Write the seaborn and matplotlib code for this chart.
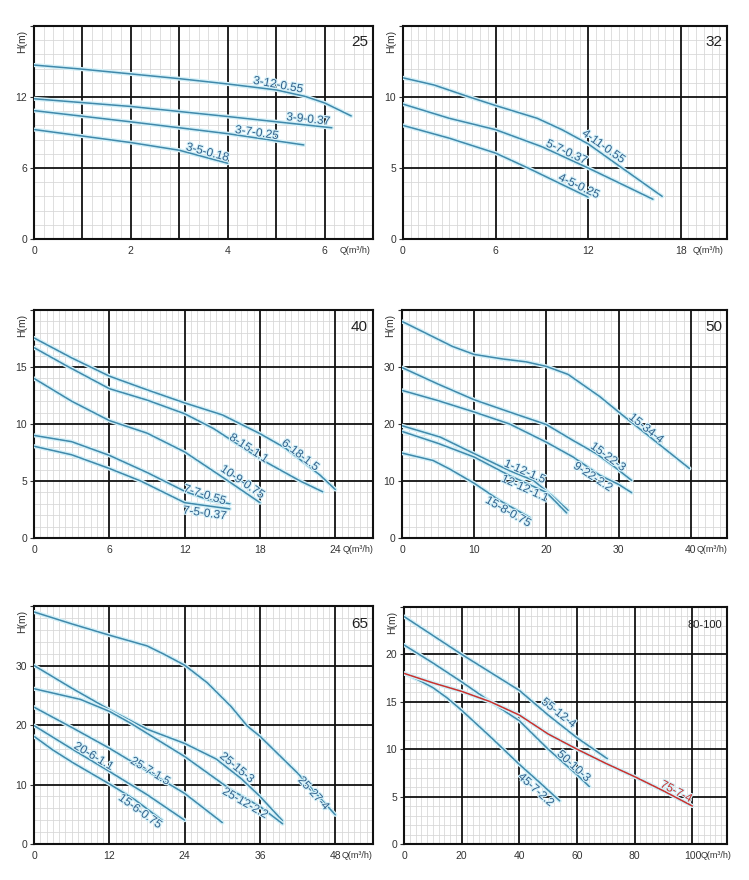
import numpy as np
import pandas as pd
import matplotlib
matplotlib.use("Agg")
import matplotlib.pyplot as plt
import matplotlib.patheffects as pe
from matplotlib.ticker import MultipleLocator, FixedLocator
import seaborn as sns

sns.set_theme(style="white")
plt.rcParams['font.family'] = ['Liberation Sans', 'DejaVu Sans']

# ---- data: Q (m3/h) and H (m) per pump model ----
# panel 25
p25_names = ["3-12-0.55", "3-9-0.37", "3-7-0.25", "3-5-0.18"]
p25_q = [[0, 1, 2, 3, 4, 5, 5.6, 6, 6.55],
         [0, 2, 4, 6.15],
         [0, 2, 4, 5.57],
         [0, 1, 2, 3, 4]]
p25_h = [[14.7, 14.35, 13.95, 13.55, 13.1, 12.6, 12.05, 11.5, 10.4],
         [11.85, 11.2, 10.35, 9.4],
         [10.85, 9.9, 8.9, 7.95],
         [9.25, 8.7, 8.15, 7.5, 6.4]]

# panel 32
p32_names = ["4-11-0.55", "5-7-0.37", "4-5-0.25"]
p32_q = [[0, 2, 4.3, 6, 8.7, 10.3, 12, 14.2, 16.8],
         [0, 3, 6, 9, 12, 14.2, 16.2],
         [0, 3, 6, 8.1, 10, 12]]
p32_h = [[11.35, 10.85, 10.0, 9.4, 8.5, 7.7, 6.7, 5.0, 3.0],
         [9.5, 8.5, 7.7, 6.5, 5.0, 3.85, 2.8],
         [8.0, 7.1, 6.05, 5.0, 4.0, 2.95]]

# panel 40
p40_names = ["6-18-1.5", "8-15-1.1", "10-9-0.75", "7-7-0.55", "7-5-0.37"]
p40_q = [[0, 3, 6, 9, 12, 15, 18, 20, 22.8, 24],
         [0, 2.6, 6, 9, 12, 14.3, 18, 21.2, 23],
         [0, 3, 6, 9, 12, 15.4, 18],
         [0, 3, 6, 9, 12, 14, 15.6],
         [0, 3, 6, 8.5, 12, 15.6]]
p40_h = [[17.55, 15.8, 14.2, 13.0, 11.85, 10.8, 9.15, 7.9, 5.5, 4.25],
         [16.7, 15.1, 13.1, 12.1, 10.9, 9.6, 6.95, 5.0, 4.05],
         [14.0, 12.0, 10.3, 9.2, 7.55, 5.05, 3.1],
         [9.0, 8.45, 7.25, 5.75, 4.1, 3.3, 3.0],
         [8.05, 7.3, 6.1, 5.0, 3.1, 2.55]]

# panel 50
p50_names = ["15-34-4", "15-22-3", "9-22-2.2", "1-12-1.5", "12-12-1.1", "15-8-0.75"]
p50_q = [[0, 4.3, 7, 10, 14, 17.2, 20, 23, 27.4, 30, 39.8],
         [0, 5, 10, 14.9, 20, 23.7, 26.9, 29.5, 31.8],
         [0, 5, 10, 14.9, 20, 23.7, 27.4, 30, 31.8],
         [0, 5.3, 10, 14.9, 18.2, 20.9, 23],
         [0, 5, 10, 14.9, 20, 22.8],
         [0, 4.3, 6.6, 10, 13.5, 17.7]]
p50_h = [[38.0, 35.3, 33.6, 32.2, 31.4, 30.9, 30.1, 28.7, 24.8, 22.1, 12.2],
         [29.9, 27.0, 24.25, 22.1, 19.9, 17.1, 14.8, 12.4, 10.1],
         [25.9, 24.1, 22.1, 20.0, 16.8, 14.2, 11.0, 9.4, 7.95],
         [19.7, 17.7, 14.8, 11.8, 10.1, 7.3, 4.85],
         [18.7, 16.6, 14.2, 10.95, 8.0, 4.4],
         [14.9, 13.6, 12.1, 9.6, 6.6, 3.6]]

# panel 65
p65_names = ["25-27-4", "25-15-3", "25-12-2.2", "25-7-1.5", "20-6-1.1", "15-6-0.75"]
p65_q = [[0, 6, 12, 18, 20.7, 24, 27.6, 31.4, 34, 36, 42, 48],
         [0, 6, 12, 18, 24, 29, 33, 36, 39.6],
         [0, 7.4, 12, 15.4, 24, 31.4, 36, 39.6],
         [0, 6, 12, 18, 24, 30],
         [0, 6, 12, 18, 24],
         [0, 3, 6.3, 12, 16, 20.4]]
p65_h = [[39.0, 37.0, 35.1, 33.3, 31.9, 30.05, 27.1, 23.1, 19.8, 18.1, 11.9, 4.9],
         [30.0, 26.2, 22.6, 19.3, 16.9, 14.3, 11.0, 8.0, 3.9],
         [26.1, 24.3, 22.3, 20.3, 14.7, 9.1, 6.3, 3.4],
         [23.0, 19.6, 16.1, 12.3, 8.5, 3.6],
         [19.9, 16.0, 12.2, 8.3, 4.0],
         [18.1, 15.8, 13.6, 10.1, 7.5, 4.0]]

# panel 80-100
p80_names = ["55-12-4", "50-10-3", "45-7-2.2", "75-7-4"]
p80_q = [[0, 20, 40, 50, 60, 70.5],
         [0, 10, 20, 30, 40, 50, 60, 64.3],
         [0, 5, 10, 15, 20, 30, 40, 47, 54],
         [0, 10, 20, 30, 40, 50, 60, 70, 80, 90, 100]]
p80_h = [[24.0, 20.0, 16.2, 13.6, 11.2, 9.0],
         [21.0, 19.1, 17.1, 15.0, 13.0, 10.0, 7.3, 6.05],
         [18.0, 17.3, 16.5, 15.4, 14.1, 11.3, 8.4, 6.5, 4.55],
         [18.0, 17.0, 16.1, 15.0, 13.6, 11.6, 10.0, 8.5, 7.1, 5.6, 4.0]]

# where each curve label sits (Q, H)
p25_lab = [(5.04, 13.0), (5.66, 10.1), (4.6, 8.95), (3.58, 7.3)]
p32_lab = [(13.0, 6.5), (10.6, 6.1), (11.4, 3.7)]
p40_lab = [(21.2, 7.25), (17.1, 7.85), (16.6, 4.9), (13.6, 3.75), (13.6, 2.15)]
p50_lab = [(33.8, 19.2), (28.5, 14.2), (26.4, 10.7), (17.0, 11.6), (17.0, 8.65), (14.7, 4.56)]
p65_lab = [(44.5, 8.5), (32.3, 12.8), (33.6, 6.85), (18.5, 12.2), (9.5, 14.7), (16.9, 5.45)]
p80_lab = [(53.6, 13.8), (58.8, 8.2), (45.7, 5.7), (94.4, 5.5)]

BLUE = "#4089ab"
LBLUE = "#31618c"
RED = "#c8322f"
GLOW = "#d3f0f8"

W, H = 749, 880
fig = plt.figure(figsize=(W / 100, H / 100), dpi=100)


def make_panel(rect, title, names, qs, hs, labs, xmax, ymax, xgrid, ygrid,
               xlab, xminor, yminor, qoff, colors=None, title_size=11):
    l, r, t, b = rect
    ax = fig.add_axes([l / W, 1 - b / H, (r - l) / W, (b - t) / H])
    rows = []
    for n, q, h in zip(names, qs, hs):
        for qq, hh in zip(q, h):
            rows.append((n, qq, hh))
    df = pd.DataFrame(rows, columns=["model", "Q", "H"])
    if colors is None:
        colors = [BLUE] * len(names)
    pal = dict(zip(names, colors))
    sns.lineplot(data=df, x="Q", y="H", hue="model", palette=pal, sort=False,
                 estimator=None, legend=False, lw=1.1, ax=ax, zorder=3)
    for ln in ax.get_lines():
        ln.set_path_effects([pe.Stroke(linewidth=3.0, foreground=GLOW), pe.Normal()])

    ax.set_xlim(0, xmax)
    ax.set_ylim(0, ymax)
    xt = np.arange(0, xmax + 1e-9, xgrid)
    yt = np.arange(0, ymax + 1e-9, ygrid)
    ax.xaxis.set_major_locator(FixedLocator(xt))
    ax.yaxis.set_major_locator(FixedLocator(yt))
    ax.set_xticklabels([("%g" % v) if (abs(v / xlab - round(v / xlab)) < 1e-6 and v < xmax - 1e-6) else ""
                        for v in xt])
    ax.set_yticklabels([("%g" % v) if v < ymax - 1e-6 else "" for v in yt])
    ax.xaxis.set_minor_locator(MultipleLocator(xminor))
    ax.yaxis.set_minor_locator(MultipleLocator(yminor))
    ax.grid(which="minor", color="#d6d6d6", lw=0.55, zorder=0)
    ax.grid(which="major", visible=False)
    # heavy black major grid, drawn above the minor grid
    for v in xt[1:]:
        ax.axvline(v, color="#111111", lw=1.3, zorder=1)
    for v in yt[1:]:
        ax.axhline(v, color="#111111", lw=1.3, zorder=1)
    for s in ax.spines.values():
        s.set_color("#111111")
        s.set_linewidth(1.5)
    ax.tick_params(axis="x", which="both", length=0, labelsize=7.5, colors="#333333", pad=5)
    ax.tick_params(axis="y", which="major", length=3, width=0.8, labelsize=7.5,
                   colors="#333333", left=True, pad=2)
    ax.tick_params(axis="y", which="minor", length=0)
    ax.set_xlabel("")
    ax.set_ylabel("")

    ax.text(0.985, 0.925, title, transform=ax.transAxes, ha="right", va="center",
            fontsize=title_size, color="#222222")
    ax.annotate("H(m)", xy=(0, 1), xycoords="axes fraction", xytext=(-12, -4),
                textcoords="offset pixels", rotation=90, ha="center", va="top",
                fontsize=7.5, color="#333333")
    last = xt[[i for i, v in enumerate(xt) if abs(v / xlab - round(v / xlab)) < 1e-6 and v < xmax - 1e-6][-1]]
    ax.annotate("Q(m³/h)", xy=(last, 0), xycoords="data", xytext=(qoff, -7),
                textcoords="offset pixels", ha="left", va="top",
                fontsize=6.5, color="#333333", annotation_clip=False)

    # labels along the curves, rotated to the local slope
    for n, q, h, (lq, lh), c in zip(names, qs, hs, labs, colors):
        d = xmax * 0.03
        p1 = ax.transData.transform((lq - d, np.interp(lq - d, q, h)))
        p2 = ax.transData.transform((lq + d, np.interp(lq + d, q, h)))
        ang = np.degrees(np.arctan2(p2[1] - p1[1], p2[0] - p1[0]))
        tc = LBLUE if c == BLUE else RED
        ax.text(lq, lh, n, rotation=ang, rotation_mode="anchor", ha="center", va="center",
                fontsize=8.5, color=tc, zorder=4,
                path_effects=[pe.withStroke(linewidth=1.6, foreground=GLOW)])
    return ax


make_panel((34, 373, 26, 239), "25", p25_names, p25_q, p25_h, p25_lab,
           7, 18, 1, 6, 2, 0.2, 1.2, 15)
make_panel((403, 727, 26, 239), "32", p32_names, p32_q, p32_h, p32_lab,
           21, 15, 6, 5, 6, 0.5, 1, 12)
make_panel((34, 373, 310, 538), "40", p40_names, p40_q, p40_h, p40_lab,
           27, 20, 6, 5, 6, 0.5, 1, 7)
make_panel((402, 727, 310, 538), "50", p50_names, p50_q, p50_h, p50_lab,
           45, 40, 10, 10, 10, 1, 2, 6)
make_panel((34, 373, 606, 844), "65", p65_names, p65_q, p65_h, p65_lab,
           54, 40, 12, 10, 12, 1, 2, 6)
make_panel((404, 727, 607, 844), "80-100", p80_names, p80_q, p80_h, p80_lab,
           112, 25, 20, 5, 20, 2, 1, 8, colors=[BLUE, BLUE, BLUE, RED], title_size=8)

fig.savefig("out.png", dpi=100, facecolor="white")
